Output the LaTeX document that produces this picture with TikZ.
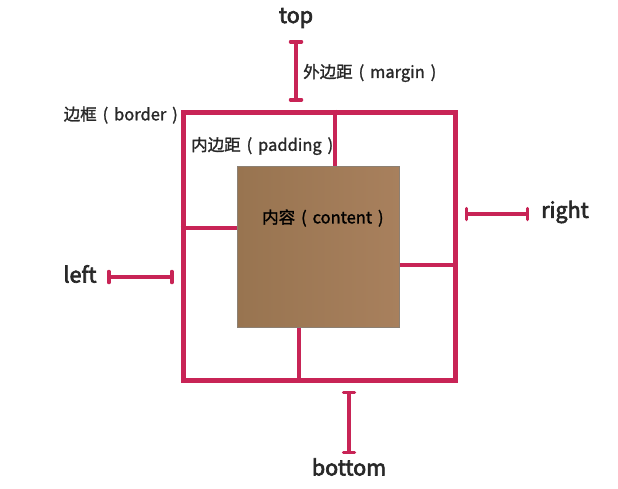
\documentclass[tikz,border=0pt]{standalone}
\usepackage{fontspec}
\setmainfont{Noto Sans CJK SC}
\newfontfamily\dirfont[FakeBold=3]{Noto Sans CJK SC}
\newfontfamily\lblfont[FakeBold=1.5,WordSpace=1.6]{Noto Sans CJK SC}
\usetikzlibrary{positioning,arrows.meta}
\definecolor{boxred}{RGB}{200,36,86}
\definecolor{textgray}{RGB}{40,40,40}
\tikzset{
  borderbox/.style={draw=boxred, line width=5pt, rectangle, inner sep=0pt},
  contentbox/.style={draw=gray!80!brown, line width=1pt, rectangle, inner sep=0pt,
    left color={rgb,255:red,152;green,116;blue,80}, right color={rgb,255:red,168;green,128;blue,93}},
  padline/.style={boxred, line width=3.5pt},
  marginline/.style={boxred, line width=4pt, line cap=round,
    {Bar[width=11pt,line width=3.5pt,round]}-{Bar[width=11pt,line width=3.5pt,round]}},
  dirlabel/.style={textgray, font=\dirfont\fontsize{21.5}{25}\selectfont},
  boxlabel/.style={textgray, font=\lblfont\fontsize{16.5}{19}\selectfont, inner sep=1pt}
}
\begin{document}
\begin{tikzpicture}[x=1pt,y=-1pt]
  \useasboundingbox (0,0) rectangle (618,488);

  % border and content boxes
  \node[borderbox, minimum width=272, minimum height=268] (border) at (319,246) {};
  \node[contentbox, minimum width=162, minimum height=161] (content) at (318,246.5) {};

  % padding lines
  \coordinate (padT) at (335,0);
  \coordinate (padB) at (299,0);
  \coordinate (padL) at (0,228);
  \coordinate (padR) at (0,265);
  \draw[padline] (border.north -| padT) -- (content.north -| padT);
  \draw[padline] (content.south -| padB) -- (border.south -| padB);
  \draw[padline] (border.west |- padL) -- (content.west |- padL);
  \draw[padline] (content.east |- padR) -- (border.east |- padR);

  % margin markers
  \node[dirlabel] (top) at (296,18) {top};
  \node[dirlabel] (left) at (80,274) {left};
  \node[dirlabel] (right) at (565,212) {right};
  \node[dirlabel] (bottom) at (349,467) {bottom};
  \coordinate (mT) at (296,40);
  \coordinate (mL) at (107,277);
  \coordinate (mR) at (529,214);
  \coordinate (mB) at (349,454);
  \draw[marginline, shorten >=8pt] (mT) -- (border.north -| mT);
  \draw[marginline, shorten >=7pt] (mL) -- (border.west |- mL);
  \draw[marginline, shorten >=7pt] (mR) -- (border.east |- mR);
  \draw[marginline, shorten >=8pt] (mB) -- (border.south -| mB);

  % labels
  \node[boxlabel, anchor=west] (marginlbl) at (302,73) {外边距 ( margin )};
  \node[boxlabel, anchor=east] (borderlbl) at (179,115) {边框 ( border )};
  \node[boxlabel, anchor=west] (paddinglbl) at (190,146) {内边距 ( padding )};
  \node[boxlabel, anchor=west, text=black] (contentlbl) at (261,218) {内容 ( content )};
\end{tikzpicture}
\end{document}
